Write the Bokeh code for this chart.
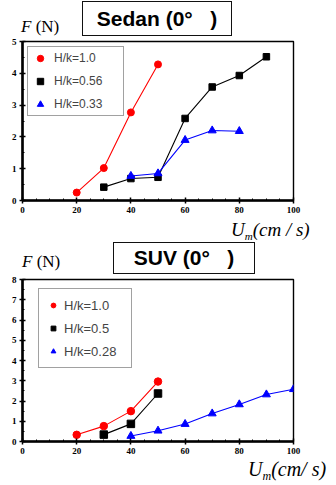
from bokeh.plotting import figure
from bokeh.layouts import column
from bokeh.models import Range1d, Legend, LegendItem, Div, FixedTicker
from bokeh.embed import file_html
from bokeh.resources import INLINE

# ---------------- data ----------------
sedan_x_10 = [20, 30, 40, 50]
sedan_y_10 = [0.25, 1.02, 2.77, 4.28]
sedan_x_056 = [30, 40, 50, 60, 70, 80, 90]
sedan_y_056 = [0.42, 0.69, 0.73, 2.58, 3.57, 3.93, 4.52]
sedan_x_033 = [40, 50, 60, 70, 80]
sedan_y_033 = [0.77, 0.85, 1.90, 2.20, 2.18]

suv_x_10 = [20, 30, 40, 50]
suv_y_10 = [0.33, 0.76, 1.50, 2.96]
suv_x_05 = [30, 40, 50]
suv_y_05 = [0.34, 0.87, 2.37]
suv_x_028 = [40, 50, 60, 70, 80, 90, 100]
suv_y_028 = [0.27, 0.53, 0.86, 1.38, 1.83, 2.32, 2.58]

x_ticks = [0, 20, 40, 60, 80, 100]
sedan_labels = ["H/k=1.0", "H/k=0.56", "H/k=0.33"]
suv_labels = ["H/k=1.0", "H/k=0.5", "H/k=0.28"]
sedan_title = "Sedan (0°   )"
suv_title = "SUV (0°   )"

RED, BLACK, BLUE = "#ff0000", "#000000", "#0000ff"


def make_fig(height, left, right, top, bottom, xmax, ymax):
    p = figure(width=336, height=height, output_backend="svg", toolbar_location=None,
               x_range=Range1d(0, xmax), y_range=Range1d(0, ymax),
               min_border_left=left, min_border_right=right,
               min_border_top=top, min_border_bottom=bottom)
    p.xgrid.visible = False
    p.ygrid.visible = False
    p.outline_line_color = "black"
    p.outline_line_width = 1.4
    p.outline_line_alpha = 1
    p.background_fill_color = "white"
    p.border_fill_color = "white"
    for ax in (p.xaxis[0], p.yaxis[0]):
        ax.axis_line_width = 2.6
        ax.axis_line_color = "black"
        ax.major_tick_line_width = 1.5
        ax.major_tick_in = 3
        ax.major_tick_out = 3
        ax.minor_tick_in = 2
        ax.minor_tick_out = 0
        ax.minor_tick_line_width = 1
        ax.major_label_text_font = "Liberation Serif"
        ax.major_label_text_font_style = "bold"
        ax.major_label_text_font_size = "9px"
        ax.major_label_text_color = "black"
        ax.major_label_standoff = 3
    p.xaxis[0].ticker = FixedTicker(ticks=x_ticks,
                                    minor_ticks=[v * 5 for v in range(0, 21)])
    p.yaxis[0].ticker = FixedTicker(ticks=list(range(0, ymax + 1)),
                                    minor_ticks=[v * 0.5 for v in range(0, 2 * ymax + 1)])
    return p


def series(p, xs, ys, color, marker, size):
    p.line(xs, ys, line_color=color, line_width=1.1)
    return p.scatter(xs, ys, marker=marker, size=size, fill_color=color, line_color=color)


def head_div(height, title, box_left, box_top, box_w, box_h, f_left, f_top, title_size):
    html = (
        f'<div style="position:relative;width:336px;height:{height}px;background:white;">'
        f'<div style="position:absolute;left:{box_left}px;top:{box_top}px;width:{box_w}px;height:{box_h}px;'
        f'box-sizing:border-box;border:1.3px solid #111;display:flex;align-items:center;justify-content:center;'
        f'font-family:\'Liberation Sans\';font-weight:bold;font-size:{title_size}px;color:black;white-space:pre;">'
        f'{title}</div>'
        f'<div style="position:absolute;left:{f_left}px;top:{f_top}px;font-family:\'Liberation Serif\';'
        f'font-size:17px;line-height:17px;color:black;white-space:pre;"><i>F</i> (N)</div>'
        f'</div>'
    )
    return Div(text=html, width=336, height=height, margin=0)


def foot_div(height, left, top, size, text):
    sub = int(size * 0.62)
    html = (
        f'<div style="position:relative;width:336px;height:{height}px;background:white;">'
        f'<div style="position:absolute;left:{left}px;top:{top}px;font-family:\'Liberation Serif\';'
        f'font-style:italic;font-size:{size}px;line-height:{size}px;color:black;white-space:pre;">'
        f'U<span style="font-size:{sub}px;position:relative;top:4px;">m</span>{text}</div>'
        f'</div>'
    )
    return Div(text=html, width=336, height=height, margin=0)


# ---------------- Sedan ----------------
p1 = make_fig(184, 21, 43, 5, 20, 100, 5)
r1 = series(p1, sedan_x_10, sedan_y_10, RED, "circle", 7)
r2 = series(p1, sedan_x_056, sedan_y_056, BLACK, "square", 6.5)
r3 = series(p1, sedan_x_033, sedan_y_033, BLUE, "triangle", 8)
leg1 = Legend(items=[LegendItem(label=sedan_labels[0], renderers=[r1]),
                     LegendItem(label=sedan_labels[1], renderers=[r2]),
                     LegendItem(label=sedan_labels[2], renderers=[r3])],
              location=(5, 84), margin=0, padding=3, spacing=7,
              glyph_height=16, glyph_width=18, label_height=16, label_width=66,
              label_standoff=5, label_text_font="Liberation Sans", label_text_font_size="12px",
              border_line_color="#444444", border_line_width=1.3, background_fill_alpha=1)
p1.add_layout(leg1, "center")

head1 = head_div(36, sedan_title, 82, 1, 150, 35, 21, 18, 21)
foot1 = foot_div(22, 231, 0, 19, "(cm / s)")

# ---------------- SUV ----------------
p2 = make_fig(184, 22, 32, 5, 17, 100, 8)
s1 = series(p2, suv_x_10, suv_y_10, RED, "circle", 7.5)
s2 = series(p2, suv_x_05, suv_y_05, BLACK, "square", 7.5)
s3 = series(p2, suv_x_028, suv_y_028, BLUE, "triangle", 8)
leg2 = Legend(items=[LegendItem(label=suv_labels[0], renderers=[s1]),
                     LegendItem(label=suv_labels[1], renderers=[s2]),
                     LegendItem(label=suv_labels[2], renderers=[s3])],
              location=(16, 73), margin=0, padding=8, spacing=7,
              glyph_height=16, glyph_width=12, label_height=16, label_width=59,
              label_standoff=5, label_text_font="Liberation Sans", label_text_font_size="13px",
              border_line_color="#444444", border_line_width=1.3, background_fill_alpha=1)
p2.add_layout(leg2, "center")

head2 = head_div(32, suv_title, 113, 0, 142, 32, 22, 11, 21)
foot2 = foot_div(27, 248, 1, 20, "(cm/ s)")

layout = column(head1, p1, foot1, head2, p2, foot2, spacing=0)
open("out.html", "w").write(file_html(layout, INLINE))
